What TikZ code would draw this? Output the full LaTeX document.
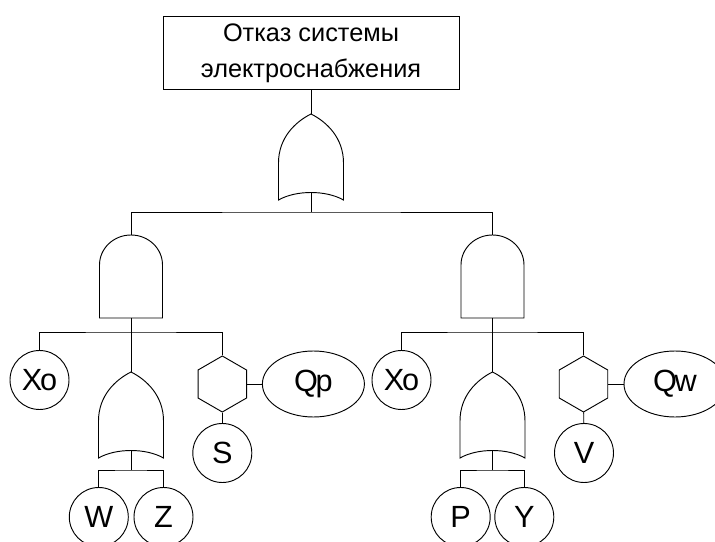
\documentclass[tikz,border=0pt]{standalone}
\usepackage{fontspec}
\setmainfont{Liberation Sans}
\newfontfamily\tightsf{Liberation Sans}[LetterSpace=-8]
\usepackage{tikz}
\usetikzlibrary{shapes.geometric}

\tikzset{
  orgate/.pic={
    \draw (-32.5,0) -- (-32.5,-37) .. controls (-32.5,-62) and (-16,-78) .. (0,-86)
      .. controls (16,-78) and (32.5,-62) .. (32.5,-37) -- (32.5,0)
      .. controls (15,-10) and (-15,-10) .. cycle;
    \coordinate (-in) at (0,-86);
    \coordinate (-out) at (0,-7.5);
  },
  andgate/.pic={
    \draw (-31.5,0) -- (-31.5,-53) .. controls (-31.5,-69.6) and (-17.4,-83) .. (0,-83)
      .. controls (17.4,-83) and (31.5,-69.6) .. (31.5,-53) -- (31.5,0) -- cycle;
    \coordinate (-in) at (0,-83);
    \coordinate (-out) at (0,0);
  }
}

\begin{document}
\begin{tikzpicture}[x=0.75pt,y=-0.75pt,line width=0.7pt,
    topbox/.style={draw,minimum width=222pt,minimum height=55pt,inner sep=0pt,
      align=center,font=\fontsize{19}{27}\selectfont},
    event/.style={draw,circle,minimum size=44.25pt,inner sep=0pt,
      font=\tightsf\fontsize{23}{23}\selectfont},
    cond/.style={draw,ellipse,minimum width=76.5pt,minimum height=49.5pt,inner sep=0pt,
      font=\tightsf\fontsize{23}{23}\selectfont},
    hexa/.style={draw,regular polygon,regular polygon sides=6,shape border rotate=30,
      minimum size=42pt,inner sep=0pt}]
  \useasboundingbox (0,0) rectangle (715,542);

  \node[topbox] (top) at (311,53.3) {Отказ системы\\электроснабжения};
  \pic (g0) at (311,200) {orgate};
  \draw (top) -- (g0-in);

  \pic (g1) at (131,318) {andgate};
  \pic (g2) at (492.5,318) {andgate};
  \coordinate (j0) at (311,212);
  \draw (g0-out) -- (j0);
  \draw (g1-in) |- (j0) -| (g2-in);

  % left branch
  \node[event] (x1) at (39.5,380) {Xo};
  \pic (g3) at (131,458) {orgate};
  \node[hexa] (h1) at (222.3,384) {};
  \node[cond] (qp) at (313.4,384) {Qp};
  \node[event] (s) at (222.3,453) {S};
  \node[event] (w) at (98.8,517) {W};
  \node[event] (z) at (163.5,517) {Z};
  \coordinate (j1) at (131,332);
  \coordinate (j3) at (131,470);
  \draw (g1-out) -- (g3-in);
  \draw (x1) |- (j1) -| (h1);
  \draw (h1) -- (qp);
  \draw (h1) -- (s);
  \draw (g3-out) -- (j3);
  \draw (w) |- (j3) -| (z);

  % right branch
  \node[event] (x2) at (401.5,380) {Xo};
  \pic (g4) at (492.5,458) {orgate};
  \node[hexa] (h2) at (583.5,384) {};
  \node[cond] (qw) at (675,384) {Qw};
  \node[event] (v) at (584,453) {V};
  \node[event] (p) at (460.7,517) {P};
  \node[event] (y) at (524.3,517) {Y};
  \coordinate (j2) at (492.5,332);
  \coordinate (j4) at (492.5,470);
  \draw (g2-out) -- (g4-in);
  \draw (x2) |- (j2) -| (h2);
  \draw (h2) -- (qw);
  \draw (h2) -- (v);
  \draw (g4-out) -- (j4);
  \draw (p) |- (j4) -| (y);
\end{tikzpicture}
\end{document}
